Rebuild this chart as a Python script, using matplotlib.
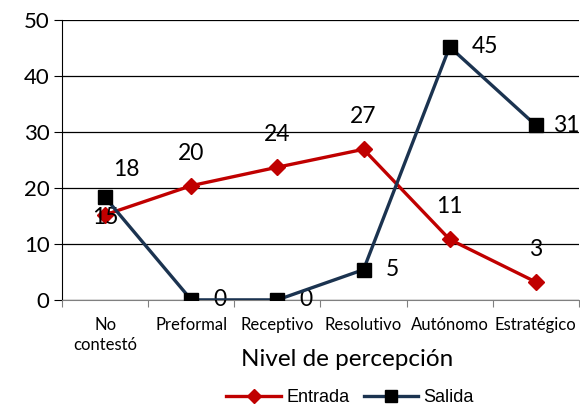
import matplotlib
matplotlib.use("Agg")
import matplotlib.pyplot as plt
from matplotlib.lines import Line2D

categories = ["No\ncontestó", "Preformal", "Receptivo", "Resolutivo", "Autónomo", "Estratégico"]
entrada = [15.2, 20.4, 23.7, 26.9, 10.8, 3.2]
salida = [18.3, 0, 0, 5.4, 45.2, 31.2]
yticks = [0, 10, 20, 30, 40, 50]

plt.rcParams['font.family'] = ['Lato', 'DejaVu Sans']

fig = plt.figure(figsize=(5.8, 4.08), dpi=100)
ax = fig.add_axes([0.107, 0.265, 0.891, 0.686])

x = list(range(len(categories)))
red = "#C00000"
navy = "#1B3350"

ax.plot(x, entrada, color=red, lw=2.4, marker="D", ms=8.5, mfc=red, mec=red, zorder=3)
ax.plot(x, salida, color=navy, lw=2.4, marker="s", ms=10, mfc="black", mec="black", zorder=4)

ax.set_xlim(-0.5, len(categories) - 0.5)
ax.set_ylim(0, 50)
ax.set_yticks(yticks)
ax.tick_params(axis="y", labelsize=16, length=6, color="black", pad=3)
ax.yaxis.grid(True, color="black", lw=0.9)
ax.set_axisbelow(True)

ax.set_xticks([i - 0.5 for i in range(len(categories) + 1)])
ax.set_xticklabels([])
ax.tick_params(axis="x", which="major", length=5, color="#808080")
ax.set_xticks(x, minor=True)
ax.set_xticklabels(categories, minor=True, fontsize=12, linespacing=1.35)
ax.tick_params(axis="x", which="minor", length=0, pad=12)

for s in ["top", "right"]:
    ax.spines[s].set_visible(False)
ax.spines["left"].set_color("black")
ax.spines["bottom"].set_color("#808080")

ax.set_xlabel("Nivel de percepción", fontsize=17.5, labelpad=4)
ax.xaxis.set_label_coords((347 - 62) / (579 - 62), -(360 - 300) / 280, transform=ax.transAxes)
ax.xaxis.label.set_va("center")

# data labels
for i, v in enumerate(entrada):
    if i == 0:
        ax.annotate(f"{v:.0f}", (i, v), xytext=(0, -2), textcoords="offset points",
                    ha="center", va="center", fontsize=16.5)
    else:
        ax.annotate(f"{v:.0f}", (i, v), xytext=(0, 23.5), textcoords="offset points",
                    ha="center", va="center", fontsize=16.5)
for i, v in enumerate(salida):
    if i == 0:
        ax.annotate(f"{v:.0f}", (i, v), xytext=(15.5, 20), textcoords="offset points",
                    ha="center", va="center", fontsize=16.5)
    else:
        dx = 12.5 if i == len(salida) - 1 else 16
        ax.annotate(f"{v:.0f}", (i, v), xytext=(dx, 0), textcoords="offset points",
                    ha="left", va="center", fontsize=16.5)

handles = [
    Line2D([], [], color=red, lw=2.4, marker="D", ms=7.5, mfc=red, mec=red),
    Line2D([], [], color=navy, lw=2.4, marker="s", ms=8.5, mfc="black", mec="black"),
]
fig.legend(handles, ["Entrada", "Salida"], loc="center", bbox_to_anchor=(350 / 580, 1 - 398 / 408),
           ncol=2, frameon=False, prop={"family": "Liberation Sans", "size": 13},
           handlelength=3, handletextpad=0.3, columnspacing=0.8, borderaxespad=0)

fig.savefig("out.png", dpi=100)
